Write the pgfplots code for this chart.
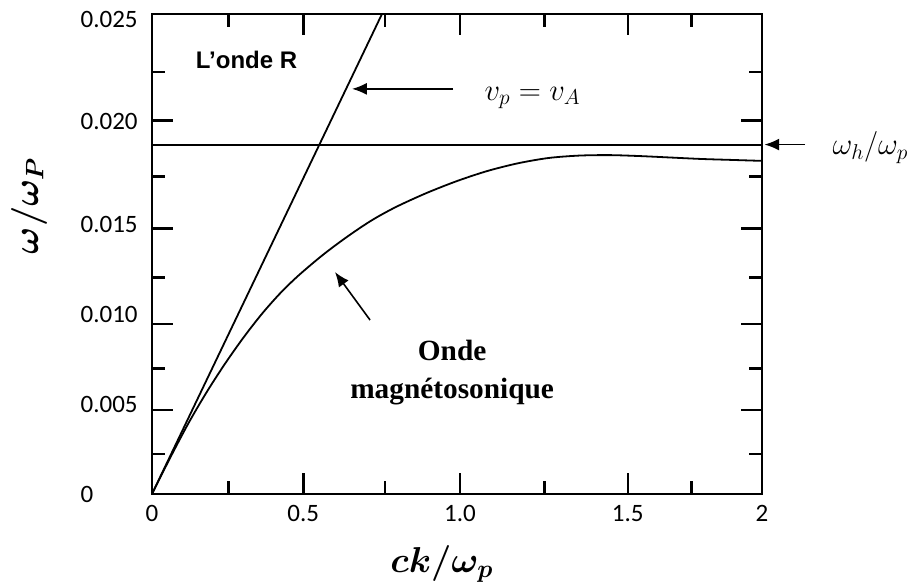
\RequirePackage{fix-cm}
\documentclass[border=0pt]{standalone}
\usepackage{amsmath}
\usepackage{bm}
\usepackage{fontspec}
\setmainfont{Carlito}
\newfontfamily\arialfont{Liberation Sans}
\newfontfamily\timesfont{Liberation Serif}
\usepackage{pgfplots}
\pgfplotsset{compat=1.18}
\usetikzlibrary{arrows.meta}

\tikzset{pointer/.style={-{Latex[length=11pt,width=9pt]}, line width=1.2pt}}

\begin{document}
\begin{tikzpicture}
\begin{axis}[
  scale only axis, width=457.5pt, height=360pt,
  xmin=0, xmax=2, ymin=0, ymax=0.025,
  clip=false,
  axis line style={line width=1.9pt},
  tick style={black, line width=1.9pt},
  major tick length=15.5pt, minor tick length=10pt,
  xtick={0,0.496,1.01,1.56,2},
  xticklabels={0,0.5,1.0,1.5,2},
  minor xtick={0.25,0.764,1.286,1.768},
  ytick={0.004375,0.00885,0.013825,0.01945},
  yticklabels={},
  minor ytick={0.002075,0.006525,0.011275,0.016525,0.021975},
  extra y ticks={0,0.0046875,0.009375,0.0140625,0.019425,0.0247},
  extra y tick labels={0,0.005,0.010,0.015,0.020,0.025},
  extra y tick style={major tick length=0pt},
  tick label style={font=\fontsize{18.75}{22}\selectfont},
  /pgf/number format/assume math mode=true,
  xticklabel style={yshift=-5pt},
  yticklabel style={xshift=-7pt, text width=43pt, align=left},
  xlabel={$\boldsymbol{ck/\omega_p}$},
  xlabel style={at={(axis description cs:0.475,-0.1625)}, anchor=base,
    font=\fontsize{27}{30}\selectfont},
  ylabel={$\boldsymbol{\omega/\omega_P}$},
  ylabel style={at={(axis description cs:-0.2016,0.6)}, anchor=center,
    font=\fontsize{27}{30}\selectfont},
]
\coordinate (sw) at (rel axis cs:0,0);
\coordinate (ne) at (rel axis cs:1,1);

% phase velocity equal to the Alfven speed
\addplot[line width=1.35pt] coordinates {(0,0) (0.754,0.025)};
% hybrid frequency
\addplot[line width=1.5pt] coordinates {(0,0.0182) (2,0.0182)};
% magnetosonic branch
\addplot[smooth, line width=1.35pt] coordinates {
  (0,0) (0.06,0.0019) (0.12,0.0037) (0.18,0.005325) (0.24,0.0068)
  (0.30,0.00815) (0.36,0.009375) (0.42,0.01045) (0.48,0.011375)
  (0.56,0.01245) (0.64,0.0134) (0.72,0.01425) (0.80,0.01495)
  (0.90,0.015675) (1.00,0.0163) (1.10,0.016825) (1.20,0.017225)
  (1.30,0.0175) (1.40,0.017625) (1.50,0.01765) (1.60,0.0176)
  (1.70,0.017525) (1.80,0.01745) (1.90,0.0174) (2.00,0.01735)};

\node[font=\arialfont\bfseries\fontsize{18}{21}\selectfont] at (axis cs:0.31,0.0226) {L’onde R};

\draw[pointer] (axis cs:0.987,0.0211) -- (axis cs:0.656,0.0211);
\node[anchor=base west, font=\fontsize{23}{27}\selectfont] at (axis cs:1.075,0.02052) {$v_p = v_A$};

\draw[pointer] (axis cs:2.141,0.0182) -- (axis cs:2.008,0.0182);
\node[anchor=base west, font=\fontsize{23}{27}\selectfont] at (axis cs:2.216,0.01766) {$\omega_h/\omega_p$};

\draw[pointer] (axis cs:0.715,0.00906) -- (axis cs:0.6,0.01156);
\node[align=center, font=\timesfont\bfseries\fontsize{22}{28.5}\selectfont] at (axis cs:0.984,0.00635) {Onde\\magnétosonique};
\end{axis}
\pgfresetboundingbox
\path[use as bounding box] ([shift={(-114pt,-67.5pt)}]sw) rectangle ([shift={(114.75pt,10.5pt)}]ne);
\end{tikzpicture}
\end{document}
